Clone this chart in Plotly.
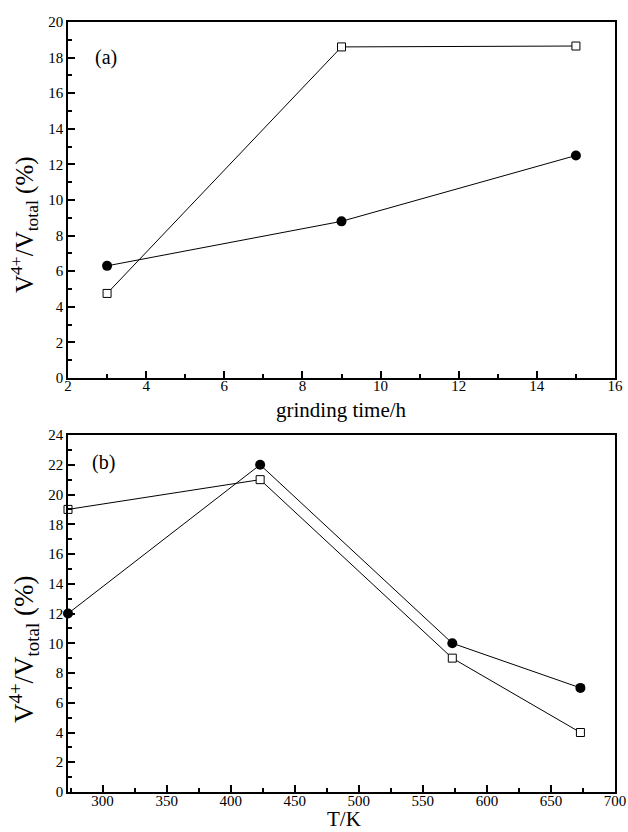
import plotly.graph_objects as go

# Panel (a): V4+ fraction versus grinding time
grind_time = [3, 9, 15]
a_filled = [6.3, 8.8, 12.5]
a_open = [4.75, 18.6, 18.65]

# Panel (b): V4+ fraction versus treatment temperature
temp_k = [273, 423, 573, 673]
b_filled = [12, 22, 10, 7]
b_open = [19, 21, 9, 4]

FONT = "Times New Roman"
BLACK = "#000000"

fig = go.Figure()

def add_series(x, y, filled, xa, ya):
    fig.add_trace(go.Scatter(
        x=x, y=y, mode="lines+markers", xaxis=xa, yaxis=ya,
        line=dict(color=BLACK, width=1),
        marker=dict(
            symbol="circle" if filled else "square",
            size=10 if filled else 8,
            color=BLACK if filled else "white",
            line=dict(color=BLACK, width=1 if not filled else 0),
        ),
        showlegend=False, cliponaxis=False,
    ))

add_series(grind_time, a_filled, True, "x", "y")
add_series(grind_time, a_open, False, "x", "y")
add_series(temp_k, b_filled, True, "x2", "y2")
add_series(temp_k, b_open, False, "x2", "y2")

axis_common = dict(
    showgrid=False, zeroline=False, showline=True, linecolor=BLACK, linewidth=1.5,
    mirror=True, ticks="inside", ticklen=7, tickwidth=1.5, tickcolor=BLACK,
    tickfont=dict(family=FONT, size=15, color=BLACK), automargin=False,
)
ytitle = "V<sup>4+</sup>/V<sub>total</sub> (%)"

fig.update_layout(
    width=628, height=832,
    margin=dict(l=68, r=13, t=22, b=40),
    paper_bgcolor="white", plot_bgcolor="white",
    font=dict(family=FONT, color=BLACK),
    xaxis=dict(axis_common, range=[2, 16], dtick=2, ticklabelstandoff=-7,
               minor=dict(dtick=1, ticks="inside", ticklen=4, tickcolor=BLACK),
               anchor="y"),
    yaxis=dict(axis_common, range=[0, 20], dtick=2, domain=[0.5377, 1.0],
               minor=dict(dtick=1, ticks="inside", ticklen=4, tickcolor=BLACK),
               anchor="x"),
    xaxis2=dict(axis_common, range=[273, 700], tick0=300, dtick=50, ticklabelstandoff=-6,
                minor=dict(tick0=275, dtick=25, ticks="inside", ticklen=4, tickcolor=BLACK),
                anchor="y2"),
    yaxis2=dict(axis_common, range=[0, 24], dtick=2, domain=[0.0, 0.4636],
                minor=dict(dtick=1, ticks="inside", ticklen=4, tickcolor=BLACK),
                anchor="x2"),
)

# axis titles
fig.add_annotation(text="grinding time/h", xref="paper", yref="paper", x=0.5, y=0.4961,
                   showarrow=False, xanchor="center", yanchor="middle",
                   font=dict(family=FONT, size=21))
fig.add_annotation(text="T/K", xref="paper", yref="paper", x=0.505, y=-0.0351,
                   showarrow=False, xanchor="center", yanchor="middle",
                   font=dict(family=FONT, size=21))
fig.add_annotation(text=ytitle, xref="paper", yref="paper", x=-0.0804, y=0.7364,
                   textangle=-90, showarrow=False, xanchor="center", yanchor="middle",
                   font=dict(family=FONT, size=25))
fig.add_annotation(text=ytitle, xref="paper", yref="paper", x=-0.0804, y=0.1844,
                   textangle=-90, showarrow=False, xanchor="center", yanchor="middle",
                   font=dict(family=FONT, size=27))

# panel labels
fig.add_annotation(text="(a)", xref="x", yref="y", x=2.98, y=18.03, showarrow=False,
                   xanchor="center", yanchor="middle", font=dict(family=FONT, size=20))
fig.add_annotation(text="(b)", xref="x2", yref="y2", x=301, y=22.18, showarrow=False,
                   xanchor="center", yanchor="middle", font=dict(family=FONT, size=20))

fig.write_html("out.html")
